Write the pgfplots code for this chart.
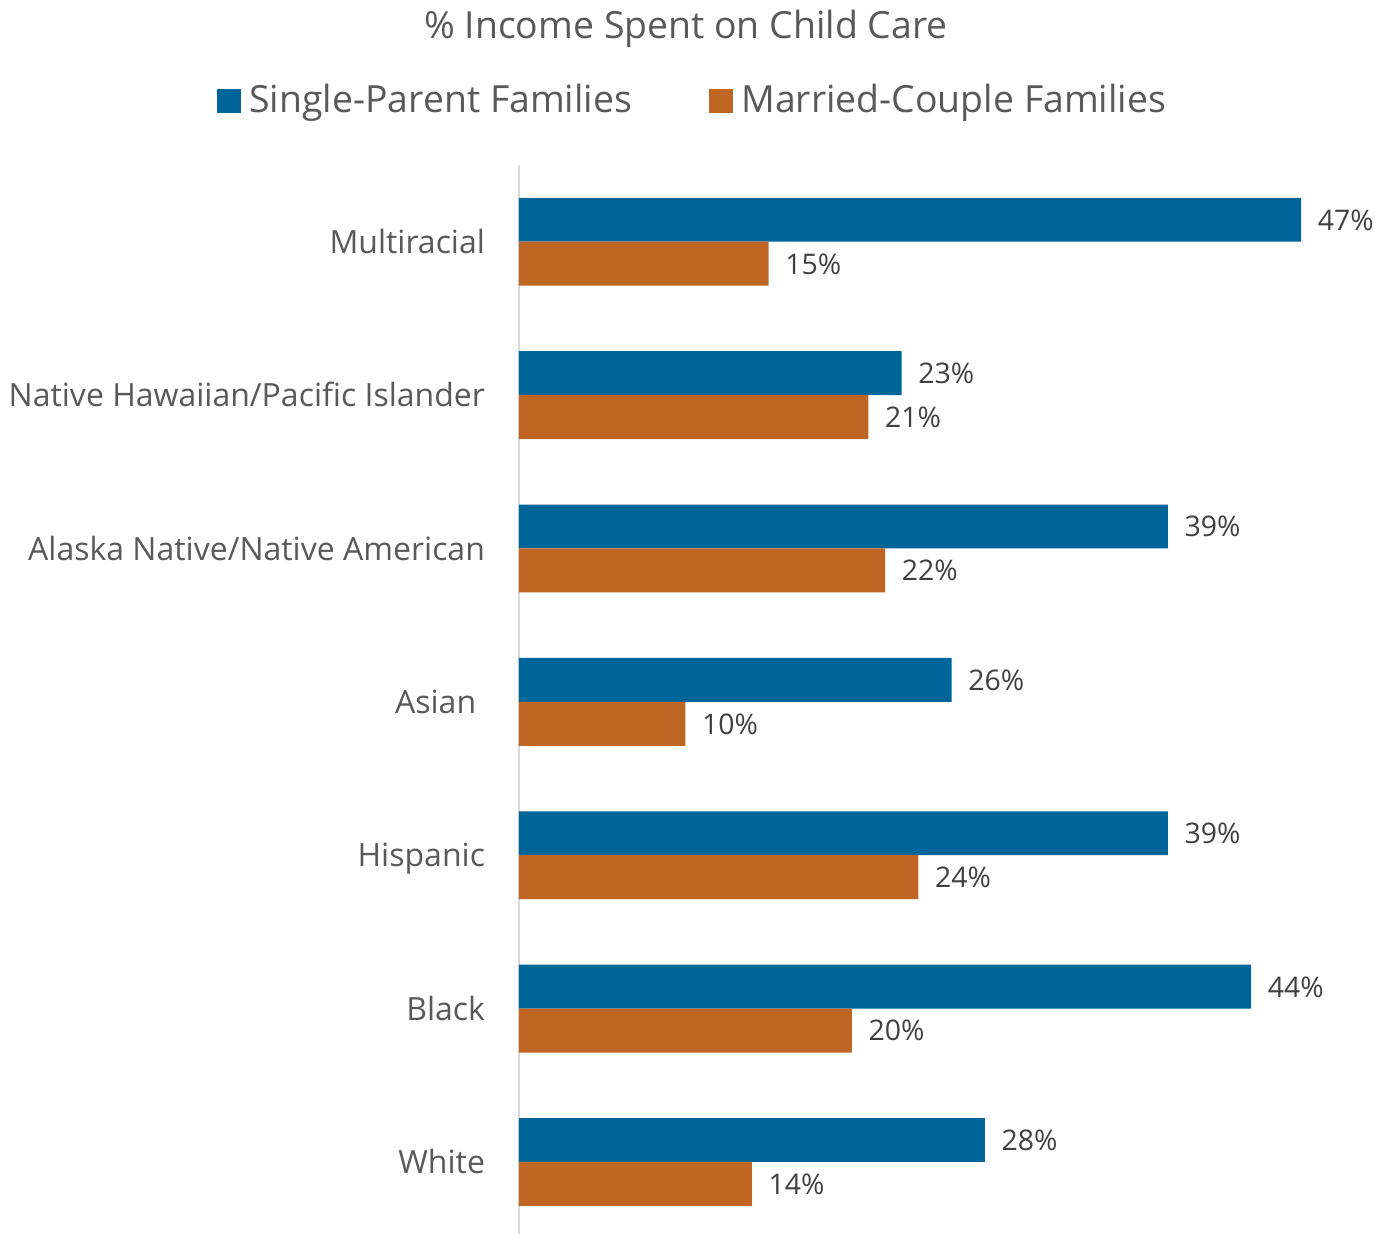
\documentclass[border=0pt]{standalone}
\usepackage{fontspec}
\setmainfont{Open Sans}
\usepackage{pgfplots}
\pgfplotsset{compat=1.18}
\definecolor{singleblue}{RGB}{0,101,153}
\definecolor{marriedorange}{RGB}{192,102,36}
\definecolor{labelgray}{RGB}{89,89,89}
\definecolor{numgray}{RGB}{64,64,64}
\definecolor{axisgray}{RGB}{217,217,217}
\begin{document}
\begin{tikzpicture}
\begin{axis}[
  scale only axis,
  width=208pt, height=267.25pt,
  xbar,
  bar width=0.2866,
  xmin=0, xmax=50,
  ymin=-0.47, ymax=6.5,
  axis x line=none,
  axis y line=left,
  y axis line style={draw=axisgray, line width=0.6pt, -},
  xtick=\empty,
  ytick={0,...,6},
  yticklabels={White,Black,Hispanic,{Asian\kern2.2pt},Alaska Native/Native American,Native Hawaiian/Pacific Islander,Multiracial},
  major tick length=0pt,
  yticklabel style={font=\fontsize{8}{10}\selectfont, text=labelgray, anchor=base east, inner sep=0pt, yshift=-2.9pt},
  yticklabel shift=8.3pt,
  clip=false,
  point meta=x,
  nodes near coords={\pgfmathprintnumber[assume math mode=true]{\pgfplotspointmeta}\%},
  every node near coord/.append style={font=\fontsize{7.1}{9}\selectfont, text=numgray, anchor=base west, inner sep=0pt, xshift=4pt, yshift=-2.6pt},
  legend columns=2,
  legend image code/.code={\fill[#1] (0pt,-3pt) rectangle (6pt,3pt);},
  legend style={draw=none, fill=none, font=\fontsize{9.35}{11}\selectfont, text=labelgray,
    at={(rel axis cs:0.2125,1.0599)}, anchor=center,
    /tikz/every even column/.append style={column sep=17.3pt}},
]
\addplot[fill=singleblue, draw=none, bar shift=0.1433] coordinates {
  (28,0) (44,1) (39,2) (26,3) (39,4) (23,5) (47,6)
};
\addlegendentry{Single-Parent Families}
\addplot[fill=marriedorange, draw=none, bar shift=-0.1433] coordinates {
  (14,0) (20,1) (24,2) (10,3) (22,4) (21,5) (15,6)
};
\addlegendentry{Married-Couple Families}
% chart title
\node[font=\fontsize{9.35}{11}\selectfont, text=labelgray, anchor=base, inner sep=0pt]
  at (rel axis cs:0.2007,1.1188) {\% Income Spent on Child Care};
\path (rel axis cs:-0.6238,0) rectangle (rel axis cs:1.0433,1.1544);
\end{axis}
\end{tikzpicture}
\end{document}
